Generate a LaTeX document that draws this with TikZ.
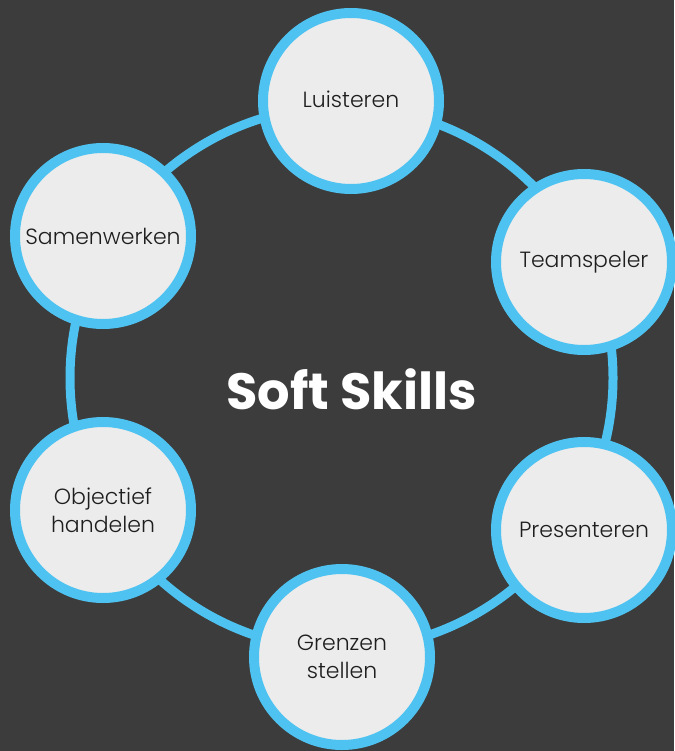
\documentclass[tikz,border=0pt]{standalone}
\usepackage{fontspec}
\setmainfont{Poppins}
\IfFontExistsTF{Poppins Light}{\newfontfamily\nodefont{Poppins Light}}{\newfontfamily\nodefont{Poppins}}
\newfontfamily\titlefont{Poppins}[BoldFont={* Bold}]
\definecolor{bg}{HTML}{3C3C3C}
\definecolor{ringblue}{HTML}{4EC3F1}
\definecolor{nodefill}{HTML}{ECECEC}
\definecolor{nodetext}{HTML}{1E1E1E}
\tikzset{
  skill/.style={circle, draw=ringblue, line width=10pt, fill=nodefill,
    minimum size=176pt, inner sep=0pt, align=center, text=nodetext,
    font=\nodefont\fontsize{22}{28}\selectfont},
  ring/.style={draw=ringblue, line width=9pt}
}
\begin{document}
\begin{tikzpicture}[x=1pt,y=-1pt]
\useasboundingbox[fill=bg] (0,0) rectangle (674,751);
\node[text=white, font=\titlefont\bfseries\fontsize{51}{54}\selectfont] (title) at (351.5,389) {Soft Skills};
\coordinate (c) at (341.5,378);
\draw[ring] (c) circle[radius=271.5pt];
\node[skill] (luisteren) at (351,101) {\raisebox{3pt}{Luisteren}};
\node[skill] (teamspeler) at (584,262) {\raisebox{4pt}{Teamspeler}};
\node[skill] (presenteren) at (584,530) {Presenteren};
\node[skill] (grenzen) at (342,657) {Grenzen\\stellen};
\node[skill] (objectief) at (103,510) {Objectief\\handelen};
\node[skill] (samenwerken) at (103,236) {Samenwerken};
\end{tikzpicture}
\end{document}
